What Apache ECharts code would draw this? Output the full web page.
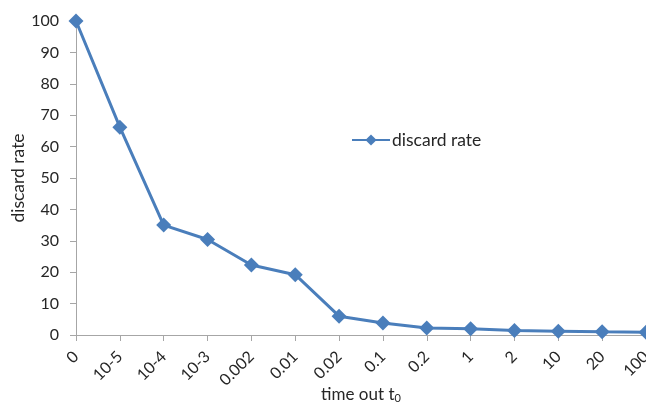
<!DOCTYPE html>
<html>
<head>
<meta charset="utf-8">
<script src="https://cdn.jsdelivr.net/npm/echarts@6/dist/echarts.min.js"></script>
<style>
  html, body { margin: 0; padding: 0; background: #fff; }
  #chart { width: 646px; height: 405px; }
</style>
</head>
<body>
<div id="chart"></div>
<script>
// Time-out settings on the category axis
var timeouts = ['0', '10-5', '10-4', '10-3', '0.002', '0.01', '0.02', '0.1', '0.2', '1', '2', '10', '20', '100'];
// Discard rate (%) for each time-out
var discardRate = [100, 66.2, 35, 30.4, 22.3, 19.2, 6, 3.8, 2.2, 2, 1.4, 1.2, 1, 0.9];
// Value-axis ticks
var yMin = 0, yMax = 100, yStep = 10;

var FONT = 'Lato, "Open Sans", sans-serif';
var TEXT = '#262626';
var AXIS = '#a6a6a6';
var BLUE = '#4a7ebb';

var chart = echarts.init(document.getElementById('chart'));
chart.setOption({
  animation: false,
  backgroundColor: '#ffffff',
  grid: { left: 76, right: 0, top: 21, bottom: 70, containLabel: false, outerBoundsMode: 'none' },
  legend: {
    left: 346, top: 126,
    itemWidth: 38, itemHeight: 14, itemGap: 4,
    textStyle: { fontFamily: FONT, fontSize: 17.5, color: TEXT, padding: [0, 0, 0, -3] },
    data: ['discard rate']
  },
  xAxis: {
    type: 'category',
    data: timeouts,
    boundaryGap: false,
    name: '{n|time out t}{s|0}',
    nameLocation: 'middle',
    nameGap: 50,
    nameMoveOverlap: false,
    nameTextStyle: {
      rich: {
        n: { fontFamily: FONT, fontSize: 17, color: TEXT },
        s: { fontFamily: FONT, fontSize: 11, color: TEXT, padding: [8, 0, 0, 0] }
      }
    },
    axisLine: { lineStyle: { color: AXIS, width: 1 } },
    axisTick: { show: true, alignWithLabel: true, length: 6, lineStyle: { color: AXIS } },
    axisLabel: { rotate: 45, fontFamily: FONT, fontSize: 16, color: TEXT, margin: 19, interval: 0 },
    splitLine: { show: false }
  },
  yAxis: {
    type: 'value',
    min: yMin, max: yMax, interval: yStep,
    name: 'discard rate',
    nameLocation: 'middle',
    nameGap: 49,
    nameMoveOverlap: false,
    nameTextStyle: { fontFamily: FONT, fontSize: 17.5, color: TEXT },
    axisLine: { show: true, lineStyle: { color: AXIS, width: 1 } },
    axisTick: { show: true, length: 6, lineStyle: { color: AXIS } },
    axisLabel: { fontFamily: FONT, fontSize: 16, color: TEXT, margin: 17 },
    splitLine: { show: false }
  },
  series: [{
    name: 'discard rate',
    type: 'line',
    data: discardRate,
    symbol: 'diamond',
    symbolSize: 15,
    clip: false,
    lineStyle: { color: BLUE, width: 3 },
    itemStyle: { color: BLUE }
  }]
});
</script>
</body>
</html>
